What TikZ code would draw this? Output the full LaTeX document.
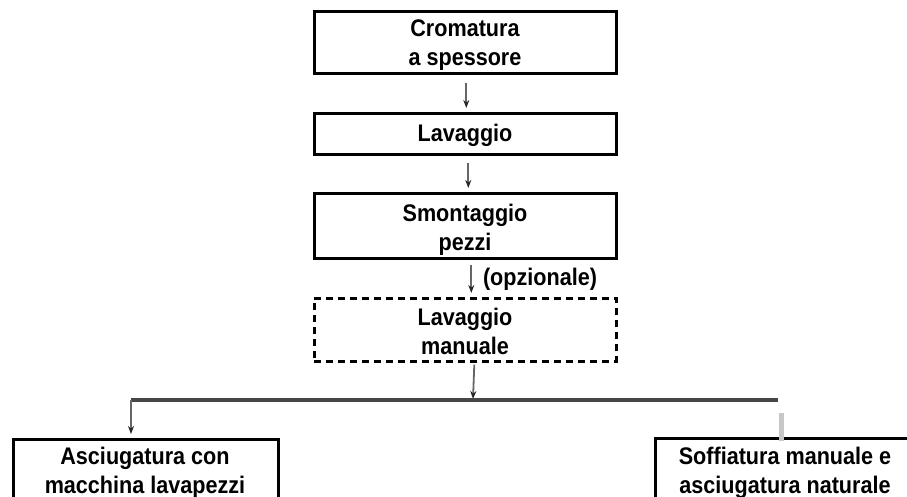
\documentclass[tikz,border=0pt]{standalone}
\usepackage{fontspec}
\setmainfont{Liberation Sans}[FakeStretch=0.9]
\usetikzlibrary{arrows.meta}
\begin{document}
\begin{tikzpicture}[x=1pt,y=-1pt,
  lbl/.style={font=\bfseries\fontsize{24}{29}\selectfont,align=center},
  box/.style={draw=black,line width=2.6pt,inner sep=0pt,align=center,
    font=\bfseries\fontsize{24}{29}\selectfont,anchor=north west},
  conn/.style={draw=black!60,line width=1.8pt,-{Stealth[length=8pt,width=6pt,color=black!85]}},
  bar/.style={draw=black!72,line width=3.2pt}]
\useasboundingbox (0,0) rectangle (907,497);
\clip (0,0) rectangle (907,497);
\node[box,minimum width=302pt,minimum height=62pt] (b1) at (313,10) {};
\node[lbl,anchor=north] (t1) at (465,16) {Cromatura\\a spessore};
\node[box,minimum width=302pt,minimum height=41pt] (b2) at (313,112) {};
\node[lbl,anchor=center] (t2) at (465,135) {Lavaggio};
\node[box,minimum width=302pt,minimum height=65pt] (b3) at (313,192) {};
\node[lbl,anchor=north] (t3) at (465,201) {Smontaggio\\pezzi};
\node[box,dashed,dash pattern=on 7pt off 5pt,minimum width=302pt,minimum height=63pt] (b4) at (313,297) {};
\node[lbl,anchor=north] (t4) at (465,305) {Lavaggio\\manuale};
\node[box,minimum width=265pt,minimum height=90pt] (b5) at (12,438) {};
\node[lbl,anchor=north] (t5) at (145,444) {Asciugatura con\\macchina lavapezzi};
\node[box,minimum width=262pt,minimum height=90pt] (b6) at (654,437) {};
\node[lbl,anchor=north] (t6) at (785,444) {Soffiatura manuale e\\asciugatura naturale};
\node[lbl,anchor=center] (opt) at (540,279) {(opzionale)};
\coordinate (hl) at (131,400);
\coordinate (hr) at (778,400);
\coordinate (hm) at (473,400);
\coordinate (g1) at (781,413);
\coordinate (g2) at (781,441);
\draw[conn] ([xshift=1pt,yshift=-8pt]b1.south) -- ([xshift=1pt,yshift=4pt]b2.north);
\draw[conn] ([xshift=3pt,yshift=-7pt]b2.south) -- ([xshift=3pt,yshift=4pt]b3.north);
\draw[conn] ([xshift=6pt,yshift=-5pt]b3.south) -- ([xshift=6pt,yshift=4pt]b4.north);
\draw[conn] ([xshift=9pt,yshift=-2pt]b4.south) -- ([yshift=1pt]hm);
\draw[bar] (hl) -- (hr);
\draw[conn] (hl) -- ([yshift=4pt]hl |- b5.north);
\draw[draw=black!22,line width=5pt] (g1) -- (g2);
\end{tikzpicture}
\end{document}
